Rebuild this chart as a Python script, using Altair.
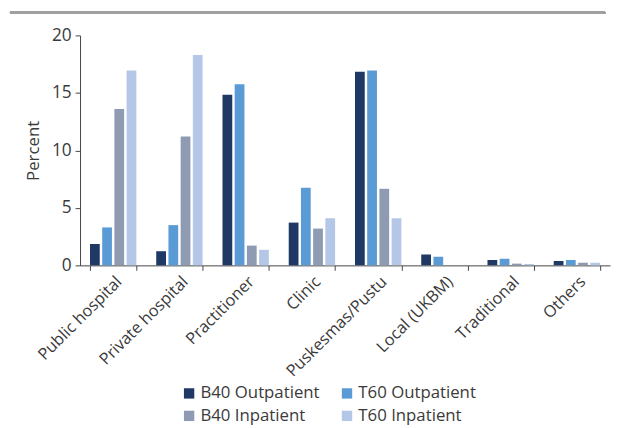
import altair as alt
import pandas as pd

categories = ["Public hospital", "Private hospital", "Practitioner", "Clinic",
              "Puskesmas/Pustu", "Local (UKBM)", "Traditional", "Others"]
series = ["B40 Outpatient", "T60 Outpatient", "B40 Inpatient", "T60 Inpatient"]
b40_out = [1.86, 1.23, 14.85, 3.72, 16.85, 0.94, 0.46, 0.37]
t60_out = [3.30, 3.50, 15.75, 6.75, 16.95, 0.75, 0.57, 0.46]
b40_in = [13.6, 11.2, 1.72, 3.20, 6.66, 0.0, 0.15, 0.23]
t60_in = [16.95, 18.3, 1.35, 4.10, 4.10, 0.0, 0.12, 0.23]
colors = ["#1f3864", "#5b9bd5", "#8e9bb3", "#b4c7e7"]

rows = []
for s, vals in zip(series, [b40_out, t60_out, b40_in, t60_in]):
    for c, v in zip(categories, vals):
        rows.append({"category": c, "series": s, "value": v})
df = pd.DataFrame(rows)

FONT = "Open Sans"

bars = alt.Chart(df).mark_bar().encode(
    x=alt.X("category:N", sort=categories,
            scale=alt.Scale(paddingInner=0.3, paddingOuter=0.15),
            axis=alt.Axis(title=None, labelAngle=-45, labelAlign="right",
                          labelBaseline="top", labelFontSize=16.5,
                          labelFont=FONT, labelColor="#3a3a3a",
                          tickBand="extent", tickSize=5, tickColor="#444444",
                          domainColor="#444444", labelPadding=3)),
    xOffset=alt.XOffset("series:N", sort=series,
                        scale=alt.Scale(paddingInner=0.2)),
    y=alt.Y("value:Q", stack=False,
            scale=alt.Scale(domain=[0, 20]),
            axis=alt.Axis(title="Percent", values=[0, 5, 10, 15, 20],
                          grid=False, tickSize=5, tickColor="#444444",
                          domainColor="#444444", labelFontSize=17.5,
                          labelFont=FONT, labelColor="#3a3a3a",
                          titleFont=FONT, titleFontSize=17,
                          titleFontWeight="normal", titleColor="#3a3a3a",
                          titlePadding=9, labelPadding=4)),
    color=alt.Color("series:N", sort=series,
                    scale=alt.Scale(domain=series, range=colors),
                    legend=alt.Legend(title=None, orient="none",
                                      direction="horizontal",
                                      legendX=102, legendY=354,
                                      columns=2, symbolType="square",
                                      symbolSize=110, symbolStrokeWidth=0,
                                      labelFont=FONT, labelFontSize=17,
                                      labelColor="#3a3a3a",
                                      columnPadding=19, rowPadding=5,
                                      labelOffset=3, labelLimit=200)),
)

topline = alt.Chart(df).mark_rule(color="#a0a0a0", strokeWidth=2).encode(
    x=alt.value(-71), x2=alt.value(532), y=alt.value(-23)
)

chart = alt.layer(bars, topline).properties(
    width=537, height=233,
    autosize=alt.AutoSizeParams(type="none"),
    padding={"left": 73, "top": 25, "right": 3, "bottom": 162},
).configure_view(stroke=None)

chart.save("out.html", embed_options={"renderer": "svg", "actions": False})
